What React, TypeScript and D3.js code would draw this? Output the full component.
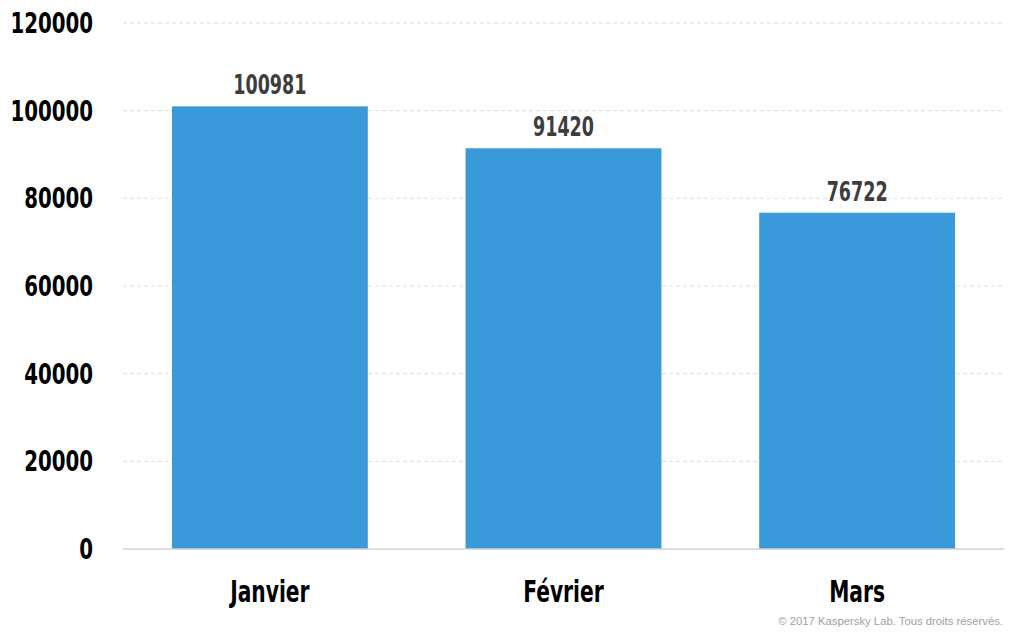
import React from "react";
import * as d3 from "d3";

const categories = ["Janvier", "Février", "Mars"];
const values = [100981, 91420, 76722];
const yTicks = [0, 20000, 40000, 60000, 80000, 100000, 120000];
const footer = "© 2017 Kaspersky Lab. Tous droits réservés.";

const W = 1015;
const H = 637;
const left = 123;
const right = 1004;
const top = 23;
const bottom = 549;
const font = "'DejaVu Sans Condensed', 'DejaVu Sans', sans-serif";
const sx = 0.75;
const sxTick = 0.8;

export default function App() {
  const x = d3
    .scaleBand<string>()
    .domain(categories)
    .range([left, right])
    .paddingInner(0.333)
    .paddingOuter(0.1667);
  const y = d3.scaleLinear().domain([0, 120000]).range([bottom, top]);

  return (
    <svg
      width={W}
      height={H}
      style={{ position: "absolute", top: 0, left: 0, background: "#fff" }}
    >
      {yTicks.map((t) => (
        <g key={t}>
          {t !== 0 && (
            <line
              x1={left}
              x2={right}
              y1={y(t)}
              y2={y(t)}
              stroke="#dcdcdc"
              strokeDasharray="4,3"
              strokeWidth={1}
            />
          )}
          <text
            transform={`translate(93,${y(t)}) scale(${sxTick},1)`}
            dy="0.36em"
            textAnchor="end"
            fontFamily={font}
            fontWeight="bold"
            fontSize={27.5}
            fill="#000"
          >
            {t}
          </text>
        </g>
      ))}
      {categories.map((c, i) => {
        const cx = (x(c) as number) + x.bandwidth() / 2;
        return (
          <g key={c}>
            <rect
              x={x(c)}
              y={y(values[i])}
              width={x.bandwidth()}
              height={bottom - y(values[i])}
              fill="#3a99d8"
            />
            <text
              transform={`translate(${cx},${y(values[i]) - 12}) scale(${sx},1)`}
              textAnchor="middle"
              fontFamily={font}
              fontWeight="bold"
              fontSize={26}
              fill="#3d3d3d"
            >
              {values[i]}
            </text>
            <text
              transform={`translate(${cx},602) scale(${sx},1)`}
              textAnchor="middle"
              fontFamily={font}
              fontWeight="bold"
              fontSize={30}
              fill="#000"
            >
              {c}
            </text>
          </g>
        );
      })}
      <line x1={left} x2={right} y1={bottom} y2={bottom} stroke="#d0d0d0" strokeWidth={1.5} />
      <text
        x={1003}
        y={625}
        textAnchor="end"
        fontFamily="'Liberation Sans', Arial, sans-serif"
        fontSize={11.3}
        fill="#a0a0a0"
      >
        {footer}
      </text>
    </svg>
  );
}
